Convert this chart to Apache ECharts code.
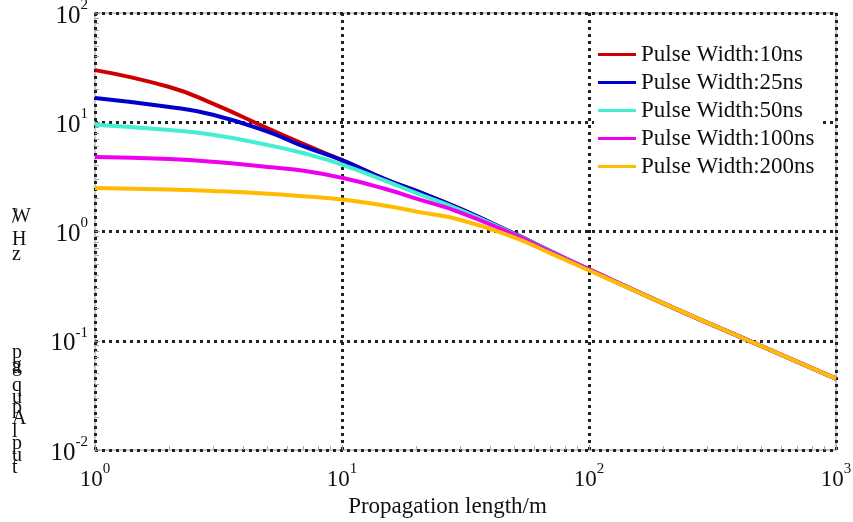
<!DOCTYPE html>
<html>
<head>
<meta charset="utf-8">
<script src="https://cdn.jsdelivr.net/npm/echarts@6/dist/echarts.min.js"></script>
<style>
  html, body { margin: 0; padding: 0; background: #fff; }
  #chart { width: 853px; height: 522px; }
</style>
</head>
<body>
<div id="chart"></div>
<script>
// propagation length (m)
var lengths = [1, 2, 3, 5, 7, 10, 15, 20, 30, 50, 70, 100, 200, 500, 1000];

// amplitude values
var pw10  = [30, 21, 14.8, 8.8, 6.3, 4.5, 3.0, 2.35, 1.62, 0.95, 0.66, 0.45, 0.22, 0.089, 0.045];
var pw25  = [16.7, 13.8, 11.7, 8.2, 6.0, 4.5, 3.0, 2.35, 1.62, 0.95, 0.66, 0.45, 0.22, 0.089, 0.045];
var pw50  = [9.5, 8.5, 7.7, 6.2, 5.2, 4.1, 2.9, 2.25, 1.58, 0.94, 0.66, 0.45, 0.22, 0.089, 0.045];
var pw100 = [4.8, 4.6, 4.35, 3.9, 3.6, 3.1, 2.45, 2.0, 1.5, 0.93, 0.65, 0.45, 0.22, 0.089, 0.045];
var pw200 = [2.5, 2.42, 2.35, 2.22, 2.1, 1.96, 1.72, 1.52, 1.28, 0.88, 0.63, 0.44, 0.22, 0.089, 0.045];

var seriesNames = ['Pulse Width:10ns', 'Pulse Width:25ns', 'Pulse Width:50ns', 'Pulse Width:100ns', 'Pulse Width:200ns'];
var seriesData = [pw10, pw25, pw50, pw100, pw200];
var colors = ['#cc0000', '#0000cc', '#44eed0', '#ee00ee', '#ffbb00'];

var serif = 'Liberation Serif';

function pair(vals) {
  return lengths.map(function (x, i) { return [x, vals[i]]; });
}

// 10^n labels with superscript
function powLabel(v) {
  var n = Math.round(Math.log(v) / Math.LN10);
  return '{b|10}{s|' + n + '}';
}
function powRich(size) {
  return {
    b: { fontFamily: serif, fontSize: size, color: '#111', verticalAlign: 'bottom', padding: [6, 0, 0, 0] },
    s: { fontFamily: serif, fontSize: 15, color: '#111', verticalAlign: 'top', padding: [0, 0, 6, 0] }
  };
}

var gridDots = { type: [3, 4], width: 3, color: '#222' };

var chart = echarts.init(document.getElementById('chart'));

// garbled y-axis label characters as they appear
var yNameChars = [
  ['W', 207], ['/', 208], ['H', 230], ['z', 245],
  ['p', 343], ['g', 356], ['a', 358], ['q', 376], ['u', 388], ['p', 398],
  ['A', 409], ['l', 422], ['p', 434], ['u', 446], ['t', 458]
];

chart.setOption({
  backgroundColor: '#fff',
  color: colors,
  animation: false,
  grid: {
    left: 95, right: 17, top: 13, bottom: 72,
    outerBoundsMode: 'none',
    show: true, borderColor: '#c8c8c8', borderWidth: 2
  },
  legend: {
    orient: 'vertical',
    left: 594, top: 39,
    itemWidth: 38, itemHeight: 3, itemGap: 5,
    icon: 'rect',
    backgroundColor: '#fff',
    padding: [4, 8, 4, 4],
    textStyle: { fontFamily: serif, fontSize: 23, color: '#111' },
    data: seriesNames
  },
  xAxis: {
    type: 'log', logBase: 10, min: 1, max: 1000,
    name: 'Propagation length/m',
    nameLocation: 'middle', nameGap: 40,
    nameTextStyle: { fontFamily: serif, fontSize: 23, color: '#111', padding: [0, 36, 0, 0] },
    axisLine: { show: false },
    axisTick: { show: true, inside: true, length: 5, lineStyle: { color: '#999' } },
    minorTick: { show: true, splitNumber: 9, length: 4, lineStyle: { color: '#aaa' } },
    axisLabel: { formatter: powLabel, rich: powRich(23), margin: 12 },
    splitLine: { show: true, lineStyle: gridDots }
  },
  yAxis: {
    type: 'log', logBase: 10, min: 0.01, max: 100,
    axisLine: { show: false },
    axisTick: { show: true, inside: true, length: 5, lineStyle: { color: '#999' } },
    minorTick: { show: true, splitNumber: 9, length: 4, lineStyle: { color: '#aaa' } },
    axisLabel: { formatter: powLabel, rich: powRich(25), margin: 7 },
    splitLine: { show: true, lineStyle: gridDots }
  },
  graphic: yNameChars.map(function (c) {
    return {
      type: 'text', left: 12, top: c[1],
      style: { text: c[0], fontFamily: serif, fontSize: 20, fill: '#111' }
    };
  }),
  series: seriesNames.map(function (name, i) {
    return {
      name: name,
      type: 'line',
      smooth: true,
      showSymbol: false,
      data: pair(seriesData[i]),
      lineStyle: { width: 4, color: colors[i] }
    };
  })
});
</script>
</body>
</html>
